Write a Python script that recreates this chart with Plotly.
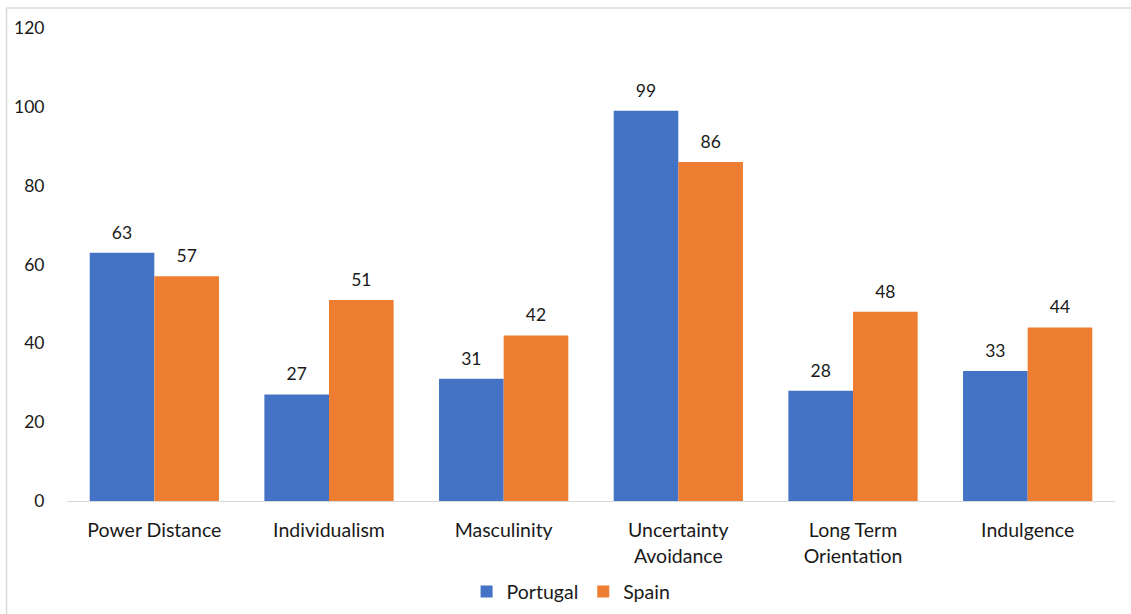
import plotly.graph_objects as go

categories = ["Power Distance", "Individualism", "Masculinity",
              "Uncertainty<br>Avoidance", "Long Term<br>Orientation", "Indulgence"]
portugal = [63, 27, 31, 99, 28, 33]
spain = [57, 51, 42, 86, 48, 44]

FONT = "Lato"
TXT = "#1a1a1a"
NUM = 17.5
LBL = 19.5

fig = go.Figure()
series = [("Portugal", portugal, "#4472C4"), ("Spain", spain, "#ED7D31")]
for i, (name, vals, col) in enumerate(series):
    fig.add_bar(x=categories, y=vals, name=name, marker_color=col,
                marker_line_width=0, offsetgroup=str(i))
for i, (name, vals, col) in enumerate(series):
    fig.add_scatter(x=categories, y=vals, mode="markers+text", text=vals,
                    textposition="top center", showlegend=False, hoverinfo="skip",
                    marker=dict(size=14, opacity=0), offsetgroup=str(i),
                    textfont=dict(size=NUM, color=TXT, family=FONT), cliponaxis=False)

fig.update_layout(
    width=1131, height=614,
    margin=dict(l=67, r=16, t=28, b=113, autoexpand=False),
    paper_bgcolor="white", plot_bgcolor="white",
    barmode="group", bargap=0.26, bargroupgap=0,
    scattermode="group", scattergap=0.26,
    font=dict(family=FONT, size=NUM, color=TXT),
    showlegend=True,
    legend=dict(orientation="h", x=0.481, xanchor="center", y=-0.192, yanchor="middle",
                font=dict(size=LBL, color=TXT, family=FONT), itemwidth=30,
                tracegroupgap=0, traceorder="normal"),
    xaxis=dict(showline=True, linecolor="#d9d9d9", linewidth=1, showgrid=False,
               ticks="outside", ticklen=12, tickcolor="rgba(0,0,0,0)",
               tickfont=dict(size=LBL, color=TXT, family=FONT)),
    yaxis=dict(range=[0, 120], dtick=20, showgrid=False, zeroline=False,
               showline=False, ticks="outside", ticklen=18, tickcolor="rgba(0,0,0,0)",
               tickfont=dict(size=NUM, color=TXT, family=FONT)),
    shapes=[
        dict(type="line", xref="paper", yref="paper", x0=-0.0577, x1=1.2,
             y0=1.0423, y1=1.0423, line=dict(color="#d9d9d9", width=1.5)),
        dict(type="line", xref="paper", yref="paper", x0=-0.0577, x1=-0.0577,
             y0=1.0423, y1=-0.5, line=dict(color="#d9d9d9", width=1.5)),
    ],
)

fig.write_html("out.html")
